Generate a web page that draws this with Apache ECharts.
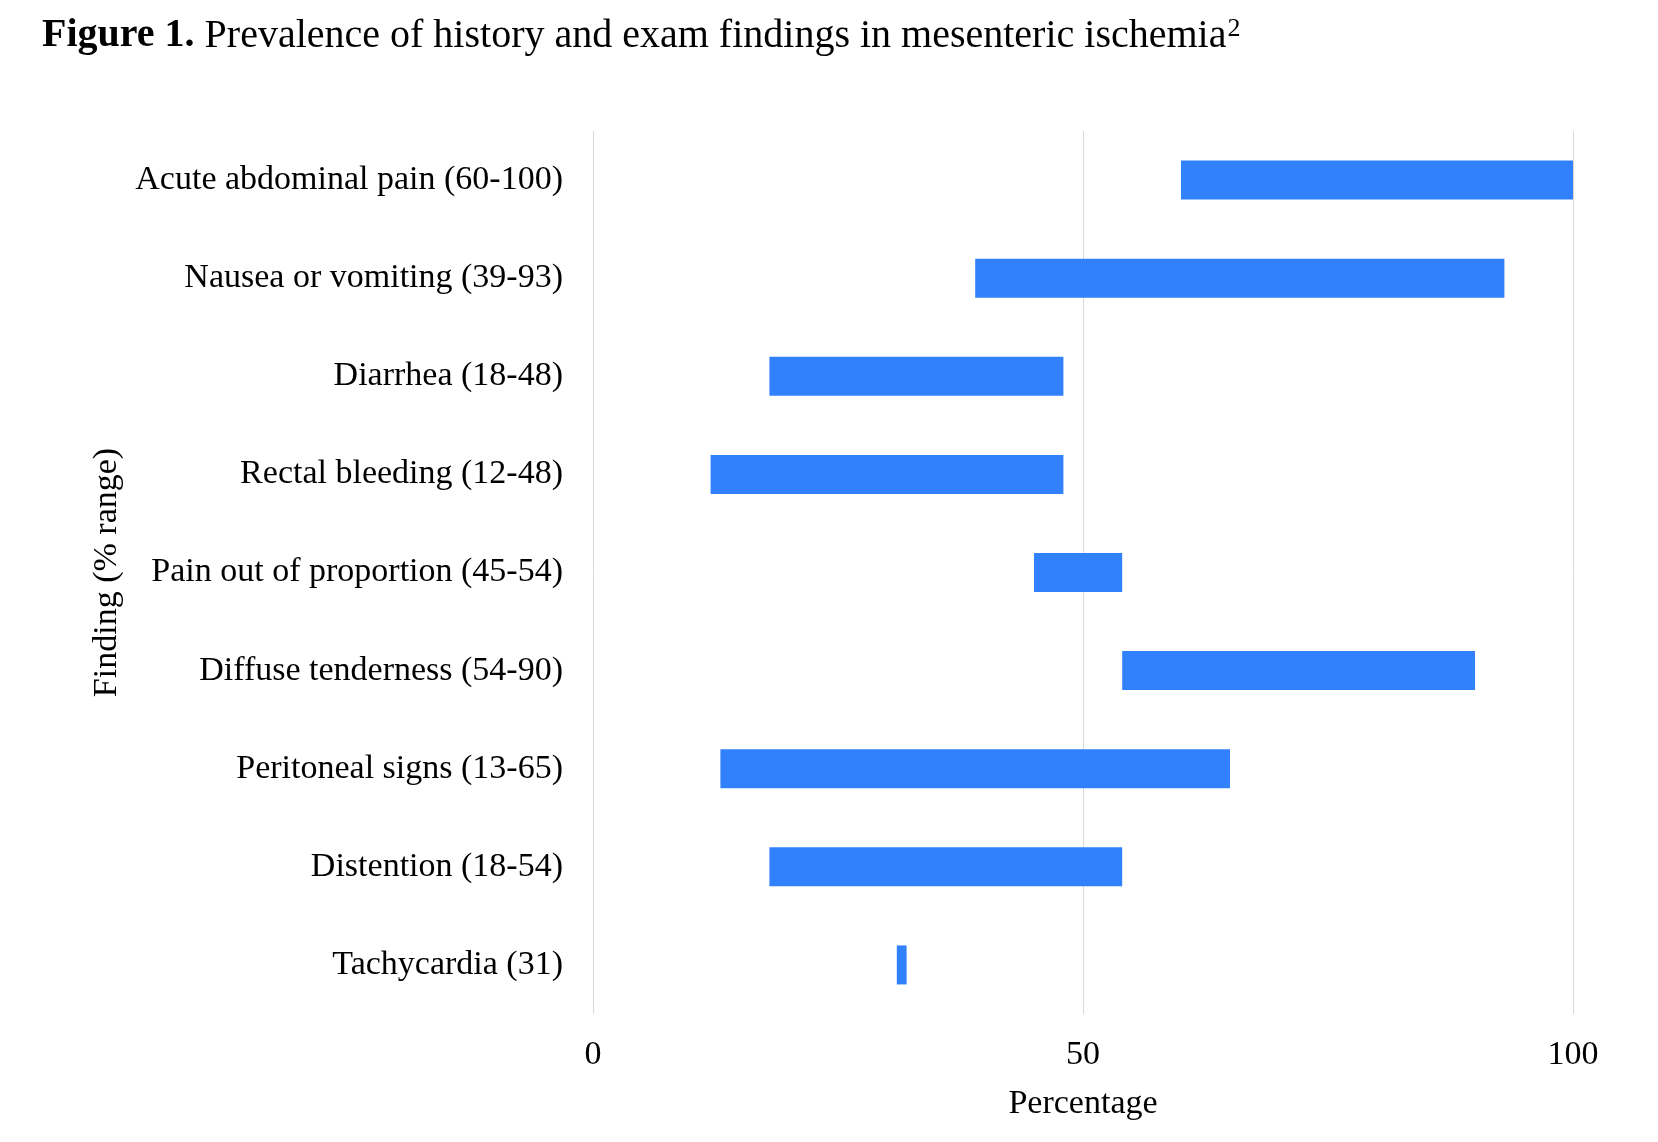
<!DOCTYPE html>
<html>
<head>
<meta charset="utf-8">
<title>Figure 1</title>
<script src="https://cdn.jsdelivr.net/npm/echarts@6/dist/echarts.min.js"></script>
<style>
  html, body { margin: 0; padding: 0; background: #fff; }
  #main { width: 1658px; height: 1142px; }
</style>
</head>
<body>
<div id="main"></div>
<script>
// findings, top to bottom
var findings = [
  'Acute abdominal pain (60-100)',
  'Nausea or vomiting (39-93)',
  'Diarrhea (18-48)',
  'Rectal bleeding (12-48)',
  'Pain out of proportion (45-54)',
  'Diffuse tenderness (54-90)',
  'Peritoneal signs (13-65)',
  'Distention (18-54)',
  'Tachycardia (31)'
];
// low and high end of each range (%)
var lowValues  = [60, 39, 18, 12, 45, 54, 13, 18, 31];
var highValues = [100, 93, 48, 48, 54, 90, 65, 54, 32];
var xTicks = [0, 50, 100];

var serif = '"Liberation Serif", "Times New Roman", serif';

var chart = echarts.init(document.getElementById('main'));

chart.setOption({
  backgroundColor: '#fff',
  textStyle: { fontFamily: serif, color: '#000' },
  title: {
    left: 42,
    top: 16,
    padding: 0,
    text: '{b|Figure 1.}{n| Prevalence of history and exam findings in mesenteric ischemia}{sup|2}',
    textStyle: {
      fontWeight: 'normal',
      rich: {
        b: { fontFamily: serif, fontSize: 40, fontWeight: 'bold', color: '#000', lineHeight: 40 },
        n: { fontFamily: serif, fontSize: 40, fontWeight: 'normal', color: '#000', lineHeight: 40 },
        sup: { fontFamily: serif, fontSize: 26, fontWeight: 'normal', color: '#000', lineHeight: 26, verticalAlign: 'top', padding: [0, 0, 0, 1] }
      }
    }
  },
  grid: { left: 593, right: 85, top: 131, bottom: 128, containLabel: false },
  xAxis: {
    type: 'value',
    min: xTicks[0],
    max: xTicks[xTicks.length - 1],
    interval: 50,
    name: 'Percentage',
    nameLocation: 'middle',
    nameGap: 73,
    nameTextStyle: { fontFamily: serif, fontSize: 34, color: '#000' },
    axisLine: { show: false },
    axisTick: { show: false },
    axisLabel: { fontFamily: serif, fontSize: 34, color: '#000', margin: 24 },
    splitLine: { show: true, lineStyle: { color: '#d9d9d9', width: 1 } }
  },
  yAxis: {
    type: 'category',
    inverse: true,
    data: findings,
    name: 'Finding (% range)',
    nameLocation: 'middle',
    nameRotate: 90,
    nameGap: 466,
    nameTextStyle: { fontFamily: serif, fontSize: 34, color: '#000' },
    axisLine: { show: false },
    axisTick: { show: false },
    axisLabel: { fontFamily: serif, fontSize: 34, color: '#000', margin: 30, padding: [4, 0, 0, 0] },
    splitLine: { show: false }
  },
  series: [
    {
      name: 'base',
      type: 'bar',
      stack: 'range',
      barWidth: 39,
      silent: true,
      itemStyle: { color: 'transparent' },
      data: lowValues
    },
    {
      name: 'range',
      type: 'bar',
      stack: 'range',
      barWidth: 39,
      itemStyle: { color: '#3181fc' },
      data: highValues.map(function (h, i) { return h - lowValues[i]; })
    }
  ]
});
</script>
</body>
</html>
